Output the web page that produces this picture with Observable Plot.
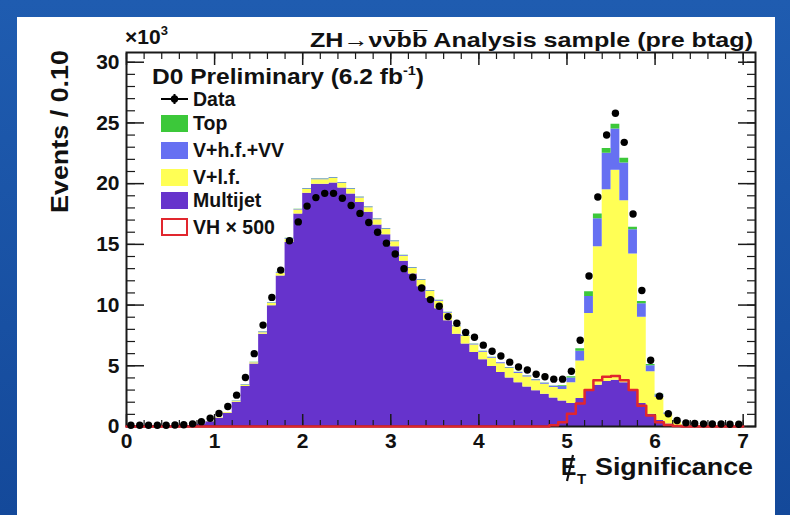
<!DOCTYPE html>
<html><head><meta charset="utf-8">
<script src="https://cdn.jsdelivr.net/npm/d3@7"></script>
<script src="https://cdn.jsdelivr.net/npm/@observablehq/plot@0.6"></script>
<style>
html,body{margin:0;padding:0;width:790px;height:515px;overflow:hidden;}
#bg{position:absolute;left:0;top:0;width:790px;height:515px;background:linear-gradient(180deg,#1f5cb0 0%,#14499a 100%);}
#panel{position:absolute;left:17px;top:17px;width:758px;height:498px;background:#fff;}
#chart{position:absolute;left:0;top:0;}
#chart svg text{font-family:"Liberation Sans",Arial,Helvetica,sans-serif;font-weight:bold;fill:#111;}
</style></head><body>
<div id="bg"></div><div id="panel"></div><div id="chart"></div>
<script>
// ---- values in thousands of events per 0.10 bin, bins 0.0-0.1 ... 6.9-7.0 ----
const dataEvents = [0.1,0.1,0.1,0.1,0.1,0.12,0.15,0.22,
  0.4,0.68,1.08,1.65,2.58,4.03,6.0,8.35,10.63,12.88,15.3,16.85,
  18.15,18.85,19.2,19.2,18.8,18.2,17.55,16.8,16.0,15.1,
  14.2,13.0,12.3,11.4,10.45,9.9,9.05,8.5,7.75,7.35,
  6.7,6.2,5.8,5.3,4.9,4.65,4.3,4.1,3.9,3.9,
  4.55,7.1,12.4,18.9,24.0,25.8,23.4,17.5,11.2,5.45,
  2.5,1.05,0.5,0.3,0.25,0.22,0.2,0.2,0.18,0.18];
const multijet = [0.02,0.02,0.02,0.03,0.03,0.04,0.06,0.09,
  0.2,0.4,0.68,1.1,2.0,3.3,5.15,7.6,9.95,12.4,15.15,17.5,
  19.2,19.95,19.95,20.05,19.65,19.15,18.45,17.65,16.6,15.8,
  14.8,13.6,12.55,11.5,10.55,9.7,8.7,7.6,6.8,6.1,
  5.5,4.95,4.45,4.0,3.6,3.25,2.95,2.65,2.35,2.1,
  1.9,2.3,3.0,3.4,3.7,3.8,3.6,3.0,1.9,1.0,
  0.5,0.2,0.08,0.04,0.02,0.01,0.01,0.01,0,0];
const vlf = [0,0,0,0,0,0,0,0,
  0.02,0.02,0.04,0.05,0.06,0.08,0.09,0.13,0.18,0.22,0.27,0.32,
  0.32,0.37,0.37,0.37,0.37,0.37,0.37,0.37,0.42,0.42,
  0.42,0.42,0.47,0.52,0.57,0.62,0.62,0.62,0.62,0.62,
  0.62,0.67,0.72,0.77,0.77,0.82,0.82,0.82,0.87,0.95,
  1.7,3.1,6.3,11.4,15.8,17.3,15.0,11.2,7.1,3.5,
  1.9,0.8,0.32,0.11,0.06,0.04,0.03,0.02,0.02,0.01];
const vhf = [0,0,0,0,0,0,0,0,
  0,0,0,0,0.02,0.03,0.04,0.05,0.05,0.06,0.06,0.06,
  0.06,0.06,0.06,0.06,0.06,0.06,0.06,0.06,0.06,0.06,
  0.06,0.06,0.06,0.06,0.06,0.06,0.06,0.06,0.06,0.06,
  0.06,0.06,0.07,0.07,0.08,0.08,0.08,0.09,0.1,0.25,
  0.4,0.8,1.4,2.3,3.0,3.4,3.1,2.0,1.1,0.5,
  0.2,0.1,0.05,0.02,0.01,0,0,0,0,0];
const topq = [0,0,0,0,0,0,0,0,
  0,0,0,0,0.02,0.02,0.02,0.02,0.02,0.02,0.02,0.02,
  0.02,0.02,0.02,0.02,0.02,0.02,0.02,0.02,0.02,0.02,
  0.02,0.02,0.02,0.02,0.02,0.02,0.02,0.02,0.02,0.02,
  0.02,0.02,0.02,0.02,0.02,0.02,0.02,0.02,0.02,0.05,
  0.1,0.2,0.4,0.4,0.4,0.4,0.4,0.2,0.2,0.1,
  0.05,0.02,0,0,0,0,0,0,0,0];
const vh500 = [0,0,0,0,0,0,0,0,0,0,
  0,0,0,0,0,0,0,0,0,0,
  0,0,0,0,0,0,0,0,0,0,
  0,0,0,0,0,0,0,0,0,0,
  0,0,0,0,0,0,0,0,0.1,0.35,
  1.05,1.9,3.0,3.8,4.1,4.15,3.8,3.0,1.7,0.9,
  0.35,0.12,0.05,0,0,0,0,0,0,0];
const processes = ["Multijet","V+l.f.","V+h.f.+VV","Top"];
const procColors = ["#6633cc","#ffff55","#6670f2","#3cc83a"];
const xTicks = [0,1,2,3,4,5,6,7];
const xMinor = d3.range(0,71,2).map(d=>d/10);
const yTicks = [0,5,10,15,20,25,30];
const yMinor = d3.range(0,31,1);
const legendLabels = ["Data","Top","V+h.f.+VV","V+l.f.","Multijet","VH \u00d7 500"];

// ---- build tables ----
const nb = dataEvents.length;
const series = [multijet, vlf, vhf, topq];
const stackRows = [];
const cum = new Array(nb).fill(0);
series.forEach((s,k)=>{
  const lo = cum.slice();
  for(let i=0;i<nb;i++) cum[i]+=s[i];
  for(let i=0;i<=nb;i++){const j=Math.min(i,nb-1); stackRows.push({proc:processes[k], x:i/10, y1:lo[j], y2:cum[j]});}
});
const vhRows = d3.range(nb+1).map(i=>({x:i/10, y:vh500[Math.min(i,nb-1)]}));
const dotRows = dataEvents.map((v,i)=>({x:(i+0.5)/10, y:v}));

const ink = "#1a1a1a";
const chart = Plot.plot({
  width:790, height:515,
  marginLeft:126, marginRight:35, marginTop:52, marginBottom:89,
  x:{domain:[0,7.14]},
  y:{domain:[0,30.8]},
  color:{domain:processes, range:procColors},
  style:{background:"transparent", overflow:"visible"},
  marks:[
    Plot.areaY(stackRows,{x:"x", y1:"y1", y2:"y2", z:"proc", fill:"proc", curve:"step-after"}),
    Plot.frame({stroke:ink, strokeWidth:2}),
    Plot.axisX({anchor:"bottom", ticks:xTicks, tickSize:12, dy:-12, fill:"none", stroke:ink, strokeWidth:1.5, label:null}),
    Plot.axisX({anchor:"bottom", ticks:xMinor, tickSize:6, dy:-6, fill:"none", stroke:ink, strokeWidth:1.2, label:null}),
    Plot.axisX({anchor:"top", ticks:xTicks, tickSize:12, dy:12, fill:"none", stroke:ink, strokeWidth:1.5, label:null}),
    Plot.axisX({anchor:"top", ticks:xMinor, tickSize:6, dy:6, fill:"none", stroke:ink, strokeWidth:1.2, label:null}),
    Plot.axisY({anchor:"left", ticks:yTicks, tickSize:18, dx:18, fill:"none", stroke:ink, strokeWidth:1.5, label:null}),
    Plot.axisY({anchor:"left", ticks:yMinor, tickSize:9, dx:9, fill:"none", stroke:ink, strokeWidth:1.2, label:null}),
    Plot.axisY({anchor:"right", ticks:yTicks, tickSize:18, dx:-18, fill:"none", stroke:ink, strokeWidth:1.5, label:null}),
    Plot.axisY({anchor:"right", ticks:yMinor, tickSize:9, dx:-9, fill:"none", stroke:ink, strokeWidth:1.2, label:null}),
    Plot.axisX({anchor:"bottom", ticks:xTicks, tickSize:0, tickPadding:7, tickFormat:d=>String(d), fontSize:21, label:null}),
    Plot.axisY({anchor:"left", ticks:yTicks, tickSize:0, tickPadding:7, tickFormat:d=>String(d), fontSize:21, label:null}),
    Plot.line(vhRows,{x:"x", y:"y", curve:"step-after", stroke:"#e1262e", strokeWidth:2.5}),
    Plot.dot(dotRows,{x:"x", y:"y", r:3.7, fill:"#000", stroke:"none"})
  ]
});
document.getElementById("chart").appendChild(chart);

// ---- titles and legend ----
const svg = d3.select(chart);
const g = svg.append("g").attr("text-anchor","start");
g.append("text").attr("x",310).attr("y",47).attr("font-size",21)
  .attr("textLength",443).attr("lengthAdjust","spacingAndGlyphs")
  .text("ZH\u2192\u03bd\u03bd\u0305bb\u0305 Analysis sample (pre btag)");
const t10 = g.append("text").attr("x",125).attr("y",44).attr("font-size",21);
t10.append("tspan").text("\u00d710");
t10.append("tspan").attr("dy",-9).attr("font-size",13).text("3");
g.append("text").attr("transform","translate(68,50) rotate(-90)").attr("text-anchor","end")
  .attr("font-size",23).attr("textLength",163).attr("lengthAdjust","spacingAndGlyphs").text("Events / 0.10");
// missing-ET symbol: E with a slash stroke, subscript T
g.append("text").attr("x",561).attr("y",475).attr("font-size",23).text("E");
g.append("line").attr("x1",567).attr("y1",481).attr("x2",573).attr("y2",455).attr("stroke","#111").attr("stroke-width",2.2);
g.append("text").attr("x",577).attr("y",484).attr("font-size",15).text("T");
g.append("text").attr("x",595).attr("y",475).attr("font-size",23)
  .attr("textLength",158).attr("lengthAdjust","spacingAndGlyphs").text("Significance");
const d0 = g.append("text").attr("x",152).attr("y",84).attr("font-size",22).attr("textLength",272).attr("lengthAdjust","spacingAndGlyphs");
d0.append("tspan").text("D0 Preliminary (6.2 fb");
d0.append("tspan").attr("dy",-9).attr("font-size",13).text("-1");
d0.append("tspan").attr("dy",9).text(")");

// legend
const lx = 161, lw = 27, lh = 17, tx = 193;
const baselines = [106,130,157,184,207,234];
g.append("line").attr("x1",lx).attr("x2",lx+lw).attr("y1",99).attr("y2",99).attr("stroke","#000").attr("stroke-width",2);
g.append("line").attr("x1",lx+lw/2).attr("x2",lx+lw/2).attr("y1",94).attr("y2",104).attr("stroke","#000").attr("stroke-width",2);
g.append("circle").attr("cx",lx+lw/2).attr("cy",99).attr("r",3.7).attr("fill","#000");
const swatchFills = [procColors[3], procColors[2], procColors[1], procColors[0]];
swatchFills.forEach((c,k)=>{
  g.append("rect").attr("x",lx).attr("y",baselines[k+1]-15).attr("width",lw).attr("height",lh).attr("fill",c);
});
g.append("rect").attr("x",lx+1).attr("y",baselines[5]-15).attr("width",lw-2).attr("height",lh-1)
  .attr("fill","#fff").attr("stroke","#e1262e").attr("stroke-width",2);
legendLabels.forEach((t,k)=>{
  g.append("text").attr("x",tx).attr("y",baselines[k]).attr("font-size",19.5).text(t);
});
</script></body></html>
